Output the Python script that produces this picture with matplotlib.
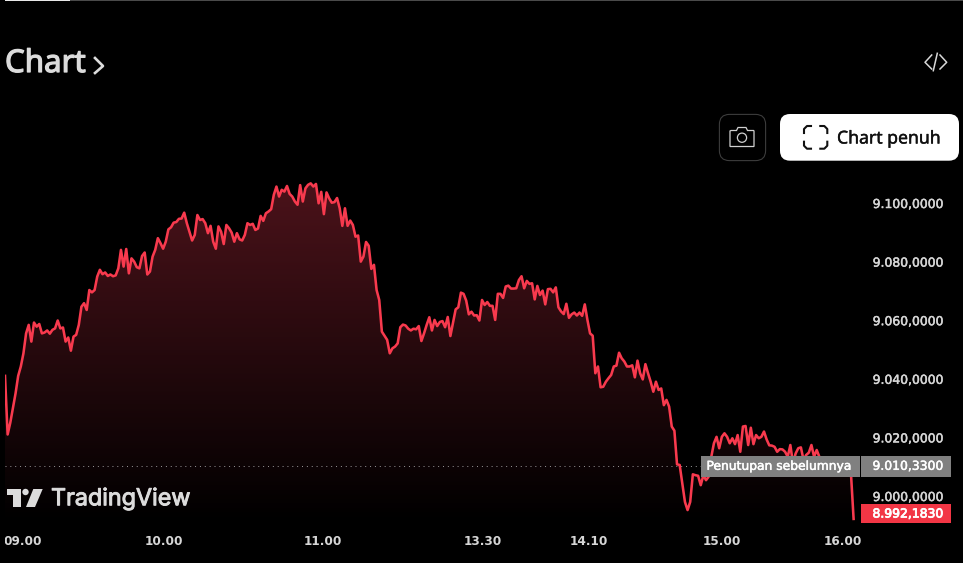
import numpy as np
from matplotlib import pyplot as plt
from matplotlib import patheffects as pe
from matplotlib.colors import LinearSegmentedColormap
from matplotlib.lines import Line2D
from matplotlib.patches import Circle, FancyBboxPatch, Polygon, Rectangle
from matplotlib.transforms import Affine2D, Bbox

W, H = 963, 563

prices = [
    9041, 9021, 9025, 9030, 9035, 9041,
    9044.2, 9048.7, 9055.5, 9058.4, 9052.7, 9059.2, 9057.8, 9058.7, 9055.5, 9055.8,
    9056.5, 9055.4, 9056.7, 9057.2, 9059.9, 9057.2, 9057.5, 9052.7, 9054.1, 9049.6,
    9054.4, 9055.0, 9058.4, 9064.6, 9065.8, 9063.5, 9070.3, 9069.5, 9070.3, 9074.9,
    9077.2, 9075.7, 9076.3, 9075.1, 9075.6, 9075.0, 9075.3, 9077.7, 9084.0, 9078.3,
    9084.3, 9076.0, 9081.1, 9080.0, 9078.1, 9077.7, 9081.9, 9083.1, 9075.6, 9076.6,
    9081.7, 9084.0, 9088.0, 9086.3, 9084.4, 9086.8, 9091.0, 9091.7, 9093.3, 9093.5,
    9094.6, 9094.7, 9096.7, 9093.1, 9090.2, 9087.2, 9089.1, 9095.9, 9094.2, 9094.5,
    9093.1, 9089.7, 9092.2, 9086.8, 9084.4, 9092.0, 9090.2, 9086.0, 9092.5, 9091.4,
    9089.9, 9086.8, 9089.7, 9087.6, 9087.2, 9089.1, 9093.1, 9092.5, 9092.9, 9090.8,
    9091.3, 9095.6, 9093.9, 9096.5, 9097.1, 9097.9, 9102.8, 9105.6, 9102.2, 9104.5,
    9103.9, 9105.8, 9103.1, 9102.2, 9100.5, 9099.4, 9106.1, 9100.5, 9105.0, 9106.2,
    9106.7, 9105.6, 9106.5, 9099.9,
    9103.8, 9096.2, 9103.6, 9101.6, 9100.1, 9100.3, 9101.7, 9098.2, 9092.2, 9098.2,
    9092.2, 9094.0, 9092.5, 9088.5, 9088.9, 9080.0, 9081.7, 9086.7, 9085.4, 9077.5,
    9078.9, 9070.3, 9066.9, 9056.1, 9054.7, 9053.3, 9048.7, 9050.4, 9051.0, 9052.1,
    9057.6, 9058.5, 9058.2, 9057.1, 9056.5, 9057.1, 9056.9, 9058.0, 9052.9, 9055.5,
    9058.4, 9061.0, 9056.5, 9060.1, 9058.0, 9059.4, 9059.7, 9057.6, 9061.1, 9054.6,
    9059.2, 9063.7, 9064.4, 9069.4, 9069.0, 9066.7, 9062.0, 9062.9, 9061.6, 9061.7,
    9059.9, 9066.9, 9065.2, 9066.2, 9064.9, 9064.9, 9060.1, 9069.0, 9069.0, 9067.6,
    9071.5, 9071.8, 9070.8, 9070.8, 9070.9, 9073.7, 9075.0, 9070.9, 9073.4, 9072.4,
    9072.6, 9067.1, 9071.7, 9068.6, 9070.1, 9065.4, 9070.6, 9070.7, 9069.5, 9071.2,
    9064.4, 9063.0, 9062.1, 9065.6, 9060.8, 9062.0, 9062.6, 9061.6, 9062.6, 9061.5,
    9065.4, 9060.1, 9055.5, 9054.7, 9041.9, 9044.2, 9037.1, 9037.3, 9039.0, 9040.2,
    9041.3, 9044.2, 9044.5, 9048.9, 9047.0, 9045.9, 9044.2, 9044.2, 9044.6, 9040.5,
    9046.2,
    9041.9, 9039.8, 9045.0, 9041.9, 9039.0, 9035.6, 9039.0, 9036.2, 9036.7, 9031.0,
    9032.8, 9030.5, 9023.7, 9022.3, 9010.8, 9010.6, 9004.3, 8998.0, 8995.2, 8998.0,
    9007.4, 9007.1, 9006.9, 9003.7, 9007.1, 9005.4, 9006.6, 9013.4, 9018.0, 9020.2,
    9016.3, 9020.2, 9021.4, 9020.2, 9018.0, 9019.7, 9017.7, 9020.8, 9015.1, 9023.7,
    9023.9, 9017.4, 9023.3, 9017.7, 9020.8, 9019.7, 9020.2, 9022.0, 9019.3, 9017.3,
    9017.2, 9016.8, 9015.1, 9016.0, 9015.9, 9015.1, 9013.4, 9017.4, 9011.1, 9014.5,
    9016.3, 9016.6, 9012.3, 9014.0, 9014.8, 9017.4, 9013.4, 9015.7, 9013.4, 9012,
    9012.5, 9011, 9012, 9010.5, 9011.5, 9011, 9012, 9011.5, 9012, 9011, 9007.7, 8992.183,
]
time_bars = [6.6, 60.3, 120.7, 181.4, 221.6, 272, 318]
time_labels = ['09.00', '10.00', '11.00', '13.30', '14.10', '15.00', '16.00']
price_ticks = [9000, 9020, 9040, 9060, 9080, 9100]
prev_close = 9010.33
last_price = 8992.183

RED = '#f83a4e'
LABEL = '#d6d6d6'
thicken = [pe.withStroke(linewidth=0.35, foreground=LABEL)]
thicken_white = [pe.withStroke(linewidth=0.35, foreground='white')]


def fmt(v):
    return f'{v:,.4f}'.replace(',', 'X').replace('.', ',').replace('X', '.')


fig = plt.figure(figsize=(W / 100, H / 100), dpi=100, facecolor='black')
# top left pixel coordinates for the page furniture around the chart
px = Affine2D().scale(1, -1).translate(0, H)

ax = fig.add_axes([5 / W, (H - 522) / H, 856 / W, 352 / H], facecolor='black')
x = np.arange(len(prices))
ax.set_xlim(0, (len(prices) - 1) * 856 / 848.6)
ax.set_ylim(8991.13, 9111.26)

# gradient under the line
cmap = LinearSegmentedColormap.from_list('fade', ['#000000', '#4e131b'])
grad = ax.imshow(np.linspace(1.0, 0, 256).reshape(-1, 1), cmap=cmap, vmin=0, vmax=1, aspect='auto',
                 extent=(*ax.get_xlim(), *ax.get_ylim()), origin='upper', zorder=1)
fill = Polygon(np.column_stack([np.r_[0, x, x[-1]], np.r_[8991.13, prices, 8991.13]]),
               closed=True, facecolor='none', edgecolor='none', transform=ax.transData)
ax.add_patch(fill)
grad.set_clip_path(fill)

ax.plot(x, prices, color=RED, lw=1.85, zorder=3, solid_joinstyle='round')
ax.axhline(prev_close, color='#9a9a9a', lw=0.7, ls=(0, (1, 4)), zorder=2)

for s in ax.spines.values():
    s.set_visible(False)
ax.yaxis.tick_right()
ax.set_yticks(price_ticks, [fmt(v) for v in price_ticks])
ax.set_xticks(time_bars, time_labels)
ax.tick_params(axis='y', length=0, pad=8.4, labelsize=8.9, labelcolor=LABEL)
ax.tick_params(axis='x', length=0, pad=9.2, labelsize=8.7, labelcolor=LABEL)
clip = Bbox([[5, 0], [861, H]])
for t in ax.get_xticklabels():
    t.set_fontweight('bold')
    t.set_clip_on(True)
    t.set_clip_box(clip)
for t in ax.get_yticklabels():
    t.set_path_effects(thicken)

# price labels
fig.add_artist(Rectangle((701, 456), 159, 20.5, transform=px, fc='#808080', ec='none'))
fig.add_artist(Rectangle((861, 456), 90, 20.5, transform=px, fc='#808080', ec='none'))
fig.add_artist(Rectangle((861, 504), 90, 18.7, transform=px, fc='#f23645', ec='none'))
fig.text(706.5 / W, 1 - 466.3 / H, 'Penutupan sebelumnya', color='white', fontsize=8.85, va='center',
         path_effects=thicken_white)
fig.text(872.5 / W, 1 - 466.3 / H, fmt(prev_close), color='white', fontsize=8.9, va='center',
         path_effects=thicken_white)
fig.text(872.5 / W, 1 - 514 / H, fmt(last_price), color='white', fontsize=8.9, va='center',
         path_effects=[pe.withStroke(linewidth=0.6, foreground='white')])

# top strip and heading
fig.add_artist(Rectangle((5, 0), 958, 1, transform=px, fc='#4a4a4a', ec='none'))
fig.add_artist(Rectangle((5, 0), 65, 1, transform=px, fc='#e8e8e8', ec='none'))
fig.text(5 / W, 1 - 64 / H, 'Chart', color='#dcdcdc', fontsize=22.5, family='Noto Sans', va='center',
         path_effects=[pe.withStroke(linewidth=0.9, foreground='#dcdcdc')])
fig.add_artist(Line2D([95, 103, 95], [58, 66, 73], transform=px, color='#dcdcdc', lw=1.9))

# embed icon
for xs, ys in [([931.7, 925, 931.7], [55, 62.3, 69]), ([937.3, 933.3], [53.3, 70.7]), ([940, 946.7, 940], [55, 62.3, 69])]:
    fig.add_artist(Line2D(xs, ys, transform=px, color='#d8d8d8', lw=1.1))

# camera button
fig.add_artist(FancyBboxPatch((729, 124), 27, 27, boxstyle='round,pad=9.6,rounding_size=10', transform=px,
                              fc='black', ec='#3c3c3c', lw=0.8))
fig.add_artist(Polygon([(731, 130.5), (736.5, 130.5), (738, 127.5), (746, 127.5), (747.5, 130.5), (753.5, 130.5),
                        (754, 131), (754, 146.5), (730, 146.5), (730, 131)],
                       closed=True, transform=px, fc='none', ec='#d0d0d0', lw=0.9))
fig.add_artist(Circle((742, 137.7), 4.6, transform=px, fc='none', ec='#d0d0d0', lw=0.9))

# full chart button
fig.add_artist(FancyBboxPatch((790, 124), 159, 26.7, boxstyle='round,pad=10,rounding_size=10', transform=px,
                              fc='white', ec='none'))
for cx, sx in [(804, 1), (827.3, -1)]:
    for cy, sy in [(126, 1), (148.7, -1)]:
        fig.add_artist(Line2D([cx, cx, cx + 3 * sx, cx + 7 * sx], [cy + 7 * sy, cy + 3 * sy, cy, cy],
                              transform=px, color='#111111', lw=1.5))
fig.text(837 / W, 1 - 138.5 / H, 'Chart penuh', color='#111111', fontsize=12.7, family='Noto Sans', va='center',
         path_effects=[pe.withStroke(linewidth=0.3, foreground='#111111')])

# TradingView mark
logo = '#dcdcdc'
fig.add_artist(Polygon([(7.3, 489), (20.7, 489), (20.7, 507), (13.3, 507), (13.3, 495), (7.3, 495)],
                       closed=True, transform=px, fc=logo, ec='none'))
fig.add_artist(Circle((25.5, 492), 3.2, transform=px, fc=logo, ec='none'))
fig.add_artist(Polygon([(33.3, 489), (42.7, 489), (35, 507), (26, 507)], closed=True, transform=px, fc=logo, ec='none'))
fig.text(51 / W, 1 - 499 / H, 'TradingView', color=logo, fontsize=16.8, family='Inter', va='center',
         path_effects=[pe.withStroke(linewidth=0.7, foreground=logo)])

fig.savefig('out.png', dpi=100, facecolor='black')
